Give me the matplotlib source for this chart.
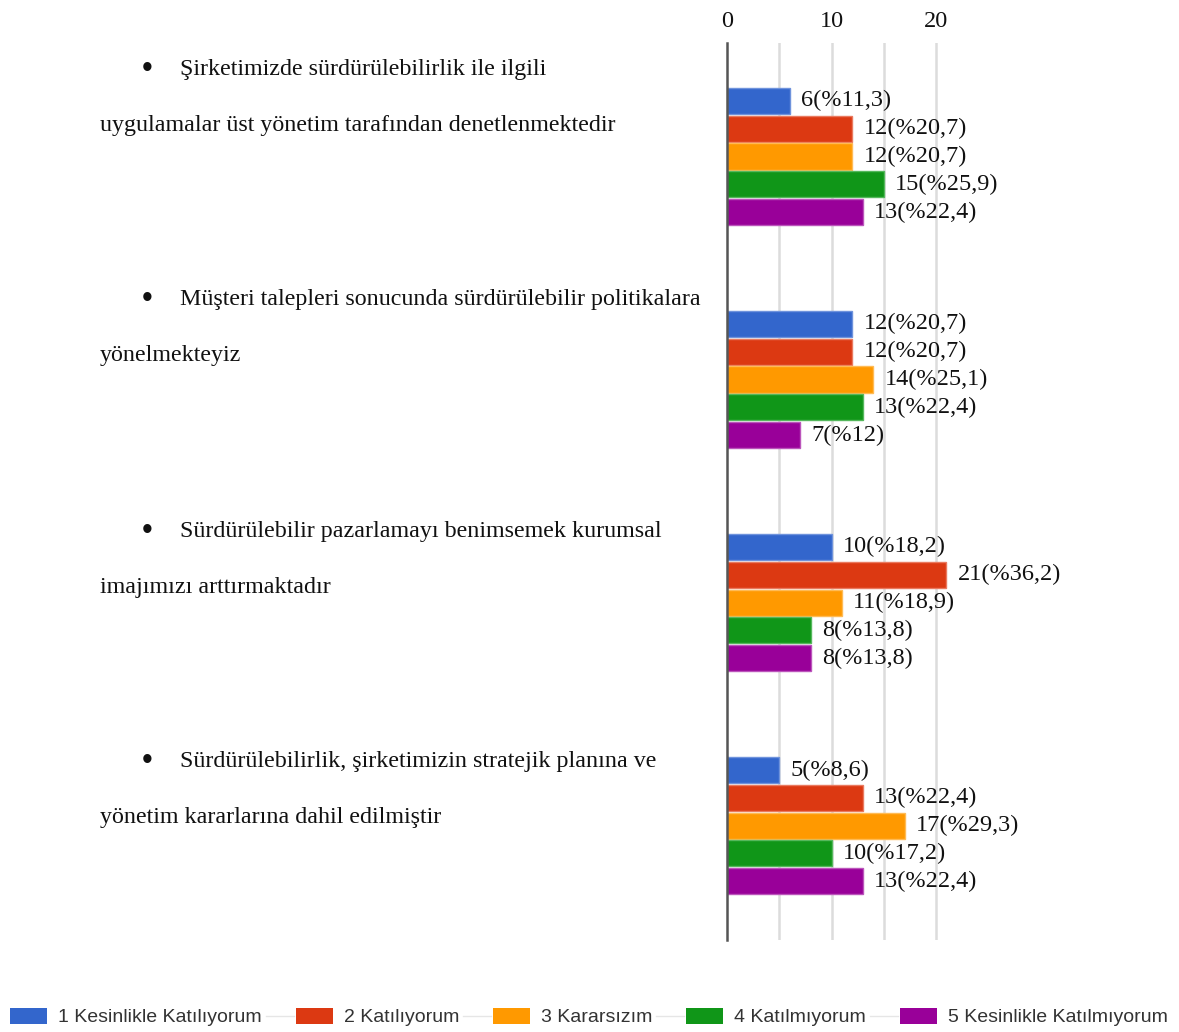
"""Likert responses on sustainability statements, horizontal grouped bars."""

import matplotlib
matplotlib.use('Agg')
import matplotlib.pyplot as plt
from matplotlib.patches import Rectangle

STATEMENTS = [
    ('Şirketimizde sürdürülebilirlik ile ilgili',
     'uygulamalar üst yönetim tarafından denetlenmektedir'),
    ('Müşteri talepleri sonucunda sürdürülebilir politikalara',
     'yönelmekteyiz'),
    ('Sürdürülebilir pazarlamayı benimsemek kurumsal',
     'imajımızı arttırmaktadır'),
    ('Sürdürülebilirlik, şirketimizin stratejik planına ve',
     'yönetim kararlarına dahil edilmiştir'),
]
RESPONSES = [
    '1 Kesinlikle Katılıyorum',
    '2 Katılıyorum',
    '3 Kararsızım',
    '4 Katılmıyorum',
    '5 Kesinlikle Katılmıyorum',
]
COUNTS = [
    [6, 12, 12, 15, 13],
    [12, 12, 14, 13, 7],
    [10, 21, 11, 8, 8],
    [5, 13, 17, 10, 13],
]
PERCENTS = [
    ['11,3', '20,7', '20,7', '25,9', '22,4'],
    ['20,7', '20,7', '25,1', '22,4', '12'],
    ['18,2', '36,2', '18,9', '13,8', '13,8'],
    ['8,6', '22,4', '29,3', '17,2', '22,4'],
]
TICKS = [0, 10, 20]
GRID = [5, 10, 15, 20]

COLORS = ['#3366cc', '#dc3912', '#ff9900', '#109618', '#990099']
EDGES = ['#6f93dc', '#ea7a5f', '#ffbb55', '#55b85c', '#bb55bb']
SERIF = ['Liberation Serif', 'DejaVu Serif']
SANS = ['Liberation Sans', 'DejaVu Sans']

W, H = 1179, 1032
fig = plt.figure(figsize=(W / 100, H / 100), dpi=100)

# plot area in pixels: value 0 at x=727, 10.45 px per unit
x0_px, top_px, bottom_px = 727, 43, 940
px_per_unit = 10.45
xmax = 40
ax = fig.add_axes([
    x0_px / W,
    1 - bottom_px / H,
    xmax * px_per_unit / W,
    (bottom_px - top_px) / H,
])
ax.patch.set_alpha(0)

pitch = 0.1247
bar_h = 0.117
for g, counts in enumerate(COUNTS):
    for k, value in enumerate(counts):
        y = g + (k - 2) * pitch
        ax.barh(y, value, height=bar_h, color=COLORS[k],
                edgecolor=EDGES[k], linewidth=1.0, zorder=3)
        ax.annotate(f'{value}(%{PERCENTS[g][k]})', xy=(value, y),
                    xytext=(8, 0), textcoords='offset points',
                    ha='left', va='center', fontsize=17.5,
                    family=SERIF, color='#111111', zorder=4)

for g in GRID:
    ax.axvline(g, color='#dcdcdc', linewidth=1.8, zorder=1)

ax.set_xlim(0, xmax)
ax.set_ylim(3.513, -0.509)
ax.set_yticks([])
ax.xaxis.tick_top()
ax.set_xticks(TICKS)
ax.set_xticklabels([str(t) for t in TICKS], family=SERIF, fontsize=17.5,
                   color='#111111')
ax.tick_params(axis='x', length=0, pad=8)
for side in ('top', 'right', 'bottom'):
    ax.spines[side].set_visible(False)
ax.spines['left'].set_color('#555555')
ax.spines['left'].set_linewidth(1.8)
ax.spines['left'].set_zorder(5)

# statement text on the left, two lines per group
line1_px = [69, 299, 531, 761]
line2_px = [126, 356, 588, 818]
for g, (first, second) in enumerate(STATEMENTS):
    fig.text(147 / W, 1 - line1_px[g] / H, '•', ha='center', va='center',
             fontsize=22, family=SANS, color='#111111')
    fig.text(180 / W, 1 - line1_px[g] / H, first, ha='left', va='center',
             fontsize=17.3, family=SERIF, color='#111111')
    fig.text(100 / W, 1 - line2_px[g] / H, second, ha='left', va='center',
             fontsize=17.3, family=SERIF, color='#111111')

# legend row along the bottom
renderer = fig.canvas.get_renderer()
leg_y = 1016
cursor = 10
prev_end = None
for k, label in enumerate(RESPONSES):
    if prev_end is not None:
        fig.add_artist(plt.Line2D([prev_end / W, (cursor - 2) / W],
                                  [1 - leg_y / H] * 2, color='#e6e6e6',
                                  linewidth=1.0))
    fig.add_artist(Rectangle((cursor / W, 1 - (leg_y + 8) / H), 37 / W, 16 / H,
                             facecolor=COLORS[k], edgecolor='none',
                             transform=fig.transFigure))
    t = fig.text((cursor + 48) / W, 1 - (leg_y + 2) / H, label, ha='left',
                 va='center', fontsize=14, family=SANS, color='#333333')
    bb = t.get_window_extent(renderer)
    prev_end = bb.x1 + 4
    cursor = bb.x1 + 34

fig.savefig('out.png', dpi=100, facecolor='white')
